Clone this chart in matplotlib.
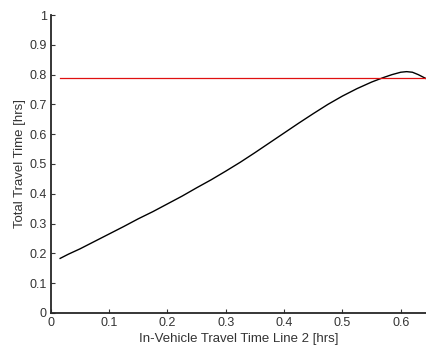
import matplotlib
matplotlib.use("Agg")
import matplotlib.pyplot as plt
import numpy as np

x_ivt = [0.016, 0.03, 0.05, 0.075, 0.1, 0.125, 0.15, 0.175, 0.2, 0.225, 0.25, 0.275, 0.3, 0.325,
         0.35, 0.375, 0.4, 0.425, 0.45, 0.475, 0.5, 0.525, 0.55, 0.57, 0.585, 0.6, 0.61, 0.62, 0.63, 0.645]
y_total = [0.183, 0.197, 0.215, 0.240, 0.265, 0.290, 0.316, 0.340, 0.366, 0.392, 0.420, 0.447, 0.476, 0.506,
           0.538, 0.571, 0.604, 0.637, 0.669, 0.700, 0.728, 0.753, 0.775, 0.790, 0.800, 0.808, 0.810, 0.808, 0.800, 0.785]
threshold = 0.79
x_ticks = [0, 0.1, 0.2, 0.3, 0.4, 0.5, 0.6]
y_ticks = [0, 0.1, 0.2, 0.3, 0.4, 0.5, 0.6, 0.7, 0.8, 0.9, 1]

plt.rcParams['font.family'] = ['Liberation Sans', 'DejaVu Sans']

fig = plt.figure(figsize=(4.27, 3.5), dpi=100)
ax = fig.add_axes([0.119, 0.106, 0.881, 0.851])

ax.plot(x_ivt, y_total, color='black', lw=1.0)
ax.axhline(threshold, xmin=(0.016 - 0) / 0.645, color='#e01010', lw=0.9)

ax.set_xlim(0, 0.645)
ax.set_ylim(0, 1)
ax.set_xticks(x_ticks)
ax.set_xticklabels(['0', '0.1', '0.2', '0.3', '0.4', '0.5', '0.6'])
ax.set_yticks(y_ticks)
ax.set_yticklabels(['0', '0.1', '0.2', '0.3', '0.4', '0.5', '0.6', '0.7', '0.8', '0.9', '1'])

for s in ['top', 'right']:
    ax.spines[s].set_visible(False)
for s in ['left', 'bottom']:
    ax.spines[s].set_linewidth(1.3)
    ax.spines[s].set_color('#262626')

ax.tick_params(direction='in', length=3, width=0.8, labelsize=9, colors='#333333', pad=3)
ax.set_xlabel('In-Vehicle Travel Time Line 2 [hrs]', fontsize=9.5, color='#333333', labelpad=3)
ax.set_ylabel('Total Travel Time [hrs]', fontsize=9.5, color='#333333', labelpad=2)

fig.savefig('out.png', dpi=100)
